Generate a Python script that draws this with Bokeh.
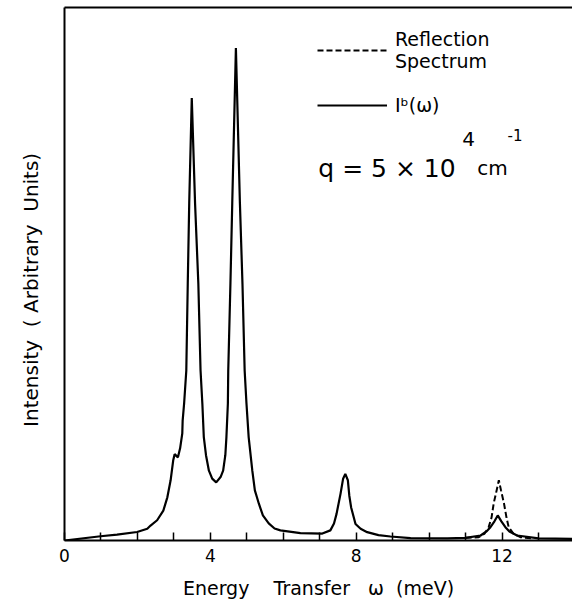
from bokeh.plotting import figure
from bokeh.models import FixedTicker, LinearAxis, Range1d, Label, Legend, LegendItem
from bokeh.embed import file_html
from bokeh.resources import INLINE

# ---- data (omega in meV, intensity in arbitrary units) ----
omega_b = [0.00, 0.99, 1.44, 1.99, 2.27, 2.36, 2.54, 2.71, 2.82, 2.91, 2.98, 3.02,
           3.11, 3.17, 3.23, 3.24, 3.28, 3.34, 3.38, 3.42, 3.49, 3.58, 3.67, 3.73,
           3.78, 3.82, 3.88, 3.96, 4.05, 4.16, 4.28, 4.35, 4.41, 4.44, 4.48, 4.49,
           4.55, 4.60, 4.70, 4.81, 4.88, 4.94, 4.99, 5.05, 5.15, 5.22, 5.33, 5.44,
           5.60, 5.76, 5.92, 6.47, 7.07, 7.29, 7.39, 7.46, 7.57, 7.64, 7.70, 7.77,
           7.81, 7.86, 7.98, 8.12, 8.30, 8.61, 8.94, 9.49, 10.50, 11.00, 11.41, 11.57,
           11.68, 11.79, 11.88, 11.98, 12.09, 12.20, 12.41, 13.00, 13.93]
intensity_b = [0.0, 0.8, 1.1, 1.6, 2.2, 2.8, 3.8, 5.6, 8.1, 11.3, 15.0, 16.2,
               15.6, 17.3, 20.1, 22.5, 25.7, 31.9, 48.2, 63.3, 83.0, 63.3, 48.2, 32.0,
               25.7, 19.4, 16.0, 13.1, 11.6, 10.9, 11.9, 13.1, 16.0, 19.4, 25.7, 31.9,
               48.2, 63.3, 92.4, 63.3, 48.2, 31.9, 25.7, 19.4, 13.1, 9.4, 6.9, 4.7,
               3.2, 2.25, 1.9, 1.4, 1.3, 1.9, 3.2, 5.0, 8.8, 11.6, 12.5, 11.3,
               8.4, 6.2, 3.1, 2.2, 1.56, 1.0, 0.75, 0.45, 0.4, 0.5, 0.94, 1.7,
               2.5, 3.6, 4.7, 3.6, 2.5, 1.7, 0.94, 0.4, 0.3]

omega_r = [11.00, 11.36, 11.52, 11.63, 11.71, 11.77, 11.85, 11.91, 11.97, 12.05,
           12.12, 12.18, 12.31, 12.50, 12.80]
intensity_r = [0.5, 0.62, 1.3, 2.5, 4.3, 7.0, 9.4, 11.3, 9.4, 7.0,
               4.3, 2.5, 1.3, 0.62, 0.4]

x_ticks = [0, 4, 8, 12]
x_minor_ticks = [1, 2, 3, 5, 6, 7, 9, 10, 11, 13]

series_labels = ["Reflection\nSpectrum", "Iᵇ(ω)"]

FONT = "DejaVu Sans"
NB = "\u00a0"

p = figure(width=572, height=602,
           x_range=Range1d(0, 13.93), y_range=Range1d(0, 100),
           output_backend="svg", toolbar_location=None,
           min_border_left=64, min_border_right=0,
           min_border_top=7, min_border_bottom=62)
p.grid.visible = False
p.outline_line_color = None
p.background_fill_color = "white"
p.border_fill_color = "white"

xa = p.xaxis[0]
xa.ticker = FixedTicker(ticks=x_ticks, minor_ticks=x_minor_ticks)
xa.major_tick_in = 8
xa.major_tick_out = 0
xa.minor_tick_in = 8
xa.minor_tick_out = 0
xa.axis_line_width = 2
xa.axis_line_color = "black"
xa.major_tick_line_width = 1.5
xa.minor_tick_line_width = 1.5
xa.major_tick_line_color = "black"
xa.minor_tick_line_color = "black"
xa.major_label_text_font = FONT
xa.major_label_text_font_size = "17px"
xa.major_label_text_color = "black"
xa.major_label_standoff = 8
xa.axis_label = "Energy" + NB * 3 + " Transfer" + NB * 2 + " ω" + NB + " (meV)"
xa.axis_label_text_font = FONT
xa.axis_label_text_font_size = "19px"
xa.axis_label_text_font_style = "normal"
xa.axis_label_text_color = "black"
xa.axis_label_standoff = 12

ya = p.yaxis[0]
ya.ticker = FixedTicker(ticks=[])
ya.axis_line_width = 2
ya.axis_line_color = "black"
ya.major_tick_out = 0
ya.major_tick_in = 0
ya.minor_tick_out = 0
ya.minor_tick_in = 0
ya.axis_label = "Intensity" + NB + " ( Arbitrary" + NB + " Units)" + NB * 5
ya.axis_label_text_font = FONT
ya.axis_label_text_font_size = "20px"
ya.axis_label_text_font_style = "normal"
ya.axis_label_text_color = "black"
ya.axis_label_standoff = 22

top = LinearAxis(ticker=FixedTicker(ticks=[]), axis_line_width=2, axis_line_color="black",
                 major_tick_out=0, major_tick_in=0, minor_tick_out=0, minor_tick_in=0,
                 major_label_standoff=0)
p.add_layout(top, "above")

r_b = p.line(omega_b, intensity_b, line_color="black", line_width=2.2)
r_r = p.line(omega_r, intensity_r, line_color="black", line_width=2, line_dash="6 3")

legend = Legend(items=[LegendItem(label=series_labels[0], renderers=[r_r]),
                       LegendItem(label=series_labels[1], renderers=[r_b])],
                location=(253, 424), glyph_width=70, glyph_height=20,
                label_standoff=8, spacing=22, padding=0, margin=0,
                border_line_color=None, background_fill_alpha=0,
                label_text_font=FONT, label_text_font_size="19px",
                label_text_color="black", label_text_line_height=0.8)
p.add_layout(legend)

q_parts = [("q = 5 × 10", 6.96, 69.8, "25px"),
           ("4", 10.91, 75.3, "20px"),
           ("cm", 11.32, 69.8, "20px"),
           ("-1", 12.15, 76.0, "15px")]
for txt, xx, yy, fs in q_parts:
    p.add_layout(Label(x=xx, y=yy, text=txt, text_font=FONT, text_font_size=fs,
                       text_color="black", text_baseline="alphabetic", text_align="left"))

open("out.html", "w").write(file_html(p, INLINE))
